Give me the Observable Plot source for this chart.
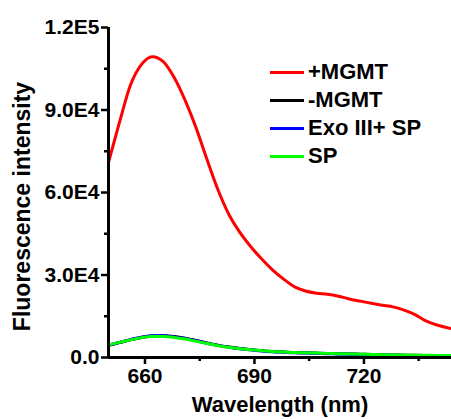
<!DOCTYPE html>
<html>
<head>
<meta charset="utf-8">
<script src="https://cdn.jsdelivr.net/npm/d3@7"></script>
<script src="https://cdn.jsdelivr.net/npm/@observablehq/plot@0.6"></script>
<style>
  body { margin: 0; background: #fff; }
  #wrap { position: relative; width: 451px; height: 419px; overflow: hidden; font-family: "Liberation Sans", Arial, sans-serif; }
  #legend { position: absolute; left: 270px; top: 58px; font-weight: bold; font-size: 22px; color: #000; }
  #legend .row { display: flex; align-items: center; height: 28px; }
  #legend .sw { width: 34px; height: 3px; margin-right: 4px; }
</style>
</head>
<body>
<div id="wrap"><div id="legend"></div></div>
<script>
const wavelengths = [650, 653, 656, 659, 662, 665, 668, 671, 674, 677, 680, 683, 686, 689, 692, 695, 698, 701, 704, 707, 710, 713, 716, 719, 722, 725, 728, 731, 734, 737, 740, 744];
const plusMGMT = [71000, 85500, 99000, 106500, 109400, 107600, 101800, 93500, 83500, 72000, 61000, 52000, 45500, 40300, 35800, 31800, 28500, 25700, 24200, 23400, 23000, 22300, 21300, 20500, 19700, 19000, 18400, 17200, 15600, 13300, 11800, 10500];
const minusMGMT = [4400, 5400, 6400, 7300, 7800, 7900, 7600, 7000, 6200, 5300, 4500, 3800, 3300, 2900, 2500, 2200, 2000, 1800, 1700, 1600, 1500, 1400, 1300, 1200, 1100, 1000, 900, 850, 800, 750, 700, 600];
const exoSP = [4500, 5500, 6500, 7400, 7900, 7900, 7500, 6900, 6100, 5200, 4400, 3700, 3200, 2800, 2400, 2100, 1900, 1700, 1600, 1500, 1400, 1300, 1200, 1100, 1000, 900, 800, 750, 700, 650, 600, 550];
const SP = [4600, 5500, 6400, 7200, 7600, 7600, 7300, 6700, 5900, 5100, 4300, 3700, 3200, 2800, 2500, 2200, 2000, 1800, 1700, 1600, 1500, 1400, 1300, 1200, 1100, 1000, 950, 900, 850, 800, 750, 700];

const seriesNames = ["+MGMT", "-MGMT", "Exo III+ SP", "SP"];
const seriesColors = ["#ff0000", "#000000", "#0000ff", "#00ff00"];
const seriesValues = [plusMGMT, minusMGMT, exoSP, SP];

const yTicks = [0, 30000, 60000, 90000, 120000];
const yTickLabels = ["0.0", "3.0E4", "6.0E4", "9.0E4", "1.2E5"];
const yMinor = [15000, 45000, 75000, 105000];
const xTicks = [660, 690, 720];
const xTickLabels = ["660", "690", "720"];
const xMinor = [675, 705, 735];
const xTitle = "Wavelength (nm)";
const yTitle = "Fluorescence intensity";

const rows = [];
seriesNames.forEach((name, i) => {
  wavelengths.forEach((w, j) => rows.push({series: name, wl: w, v: seriesValues[i][j]}));
});

const lineMarks = seriesNames.map((name, i) =>
  Plot.line(rows.filter(d => d.series === name), {x: "wl", y: "v", stroke: seriesColors[i], strokeWidth: 3, curve: "monotone-x"})
);

const chart = Plot.plot({
  width: 451,
  height: 419,
  marginLeft: 108,
  marginRight: 0,
  marginTop: 27,
  marginBottom: 62,
  style: {fontFamily: "'Liberation Sans', Arial, sans-serif", fontWeight: "bold", color: "#000", background: "#fff"},
  x: {domain: [650, 744]},
  y: {domain: [0, 120000]},
  marks: [
    Plot.axisY({ticks: yTicks, tickFormat: (d) => yTickLabels[yTicks.indexOf(d)], tickSize: 7, tickPadding: 2, strokeWidth: 2.5, fontSize: 21, fontWeight: "bold", label: null}),
    Plot.axisY({ticks: yMinor, tickFormat: () => "", tickSize: 4, strokeWidth: 2.5, label: null}),
    Plot.axisX({ticks: xTicks, tickFormat: (d) => xTickLabels[xTicks.indexOf(d)], tickSize: 7, tickPadding: 4, strokeWidth: 2.5, fontSize: 21, fontWeight: "bold", label: null}),
    Plot.axisX({ticks: xMinor, tickFormat: () => "", tickSize: 4, strokeWidth: 2.5, label: null}),
    Plot.text([yTitle], {text: d => d, frameAnchor: "left", textAnchor: "middle", rotate: -90, dx: -86, dy: 14, fontSize: 23, fontWeight: "bold", fill: "#000"}),
    Plot.text([xTitle], {text: d => d, frameAnchor: "bottom", textAnchor: "middle", dy: 54, fontSize: 22, fontWeight: "bold", fill: "#000"}),
    ...lineMarks,
    Plot.ruleX([650], {stroke: "#000", strokeWidth: 3}),
    Plot.ruleY([0], {stroke: "#000", strokeWidth: 3})
  ]
});

const wrap = document.getElementById("wrap");
wrap.insertBefore(chart, wrap.firstChild);

const legend = document.getElementById("legend");
seriesNames.forEach((name, i) => {
  const row = document.createElement("div");
  row.className = "row";
  const sw = document.createElement("div");
  sw.className = "sw";
  sw.style.background = seriesColors[i];
  const tx = document.createElement("span");
  tx.textContent = name;
  row.appendChild(sw);
  row.appendChild(tx);
  legend.appendChild(row);
});
</script>
</body>
</html>
